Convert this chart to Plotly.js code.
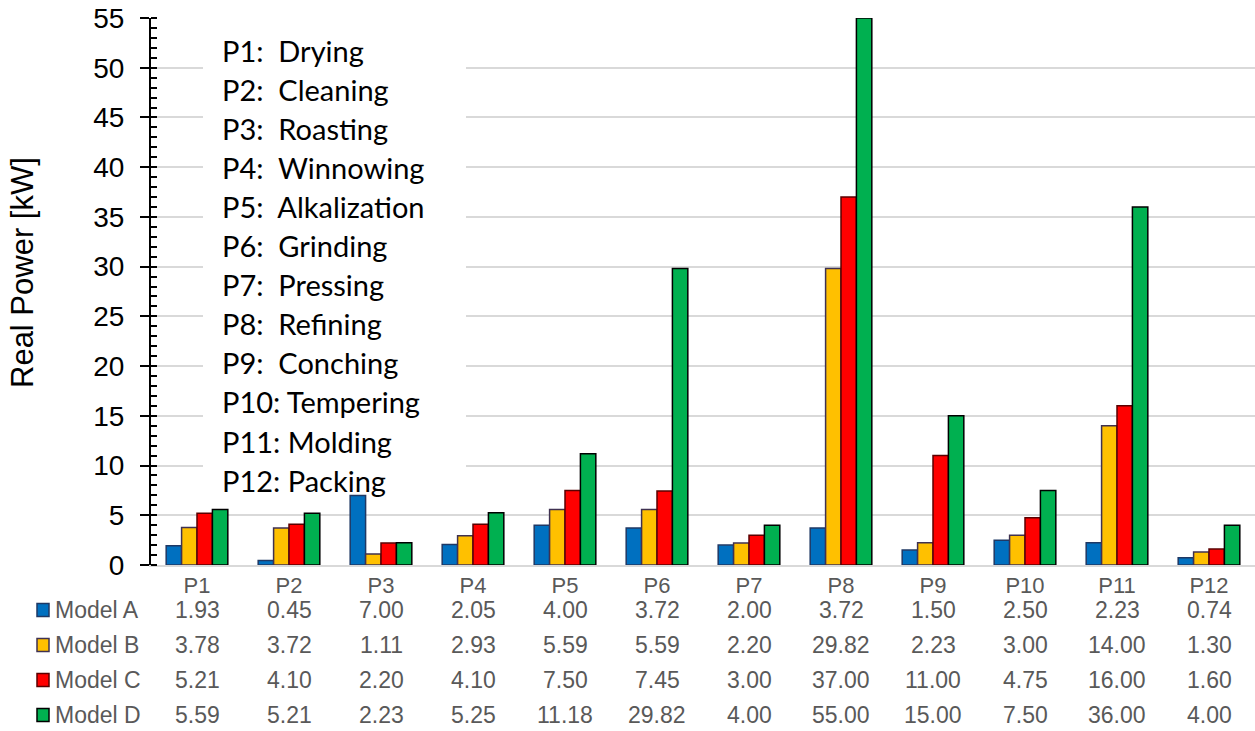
<!DOCTYPE html>
<html>
<head>
<meta charset="utf-8">
<script src="https://cdn.plot.ly/plotly-3.0.1.min.js"></script>
<style>html,body{margin:0;padding:0;background:#fff;}#chart{width:1255px;height:731px;}</style>
</head>
<body>
<div id="chart"></div>
<script>
const categories = ['P1','P2','P3','P4','P5','P6','P7','P8','P9','P10','P11','P12'];
const processNames = ['Drying','Cleaning','Roasting','Winnowing','Alkalization','Grinding','Pressing','Refining','Conching','Tempering','Molding','Packing'];
const seriesNames = ['Model A','Model B','Model C','Model D'];
const modelA = [1.93,0.45,7.00,2.05,4.00,3.72,2.00,3.72,1.50,2.50,2.23,0.74];
const modelB = [3.78,3.72,1.11,2.93,5.59,5.59,2.20,29.82,2.23,3.00,14.00,1.30];
const modelC = [5.21,4.10,2.20,4.10,7.50,7.45,3.00,37.00,11.00,4.75,16.00,1.60];
const modelD = [5.59,5.21,2.23,5.25,11.18,29.82,4.00,55.00,15.00,7.50,36.00,4.00];
const seriesValues = [modelA, modelB, modelC, modelD];
const fillColors = ['#0070C0','#FFC000','#FF0000','#00B050'];
const lineColors = ['#1F3864','#3F3151','#5A0000','#000000'];

const L = 151, T = 18, W = 1104, H = 547;
const FW = 1255, FH = 731;
const px2x = p => (p - L) / W;
const py2y = p => (T + H - p) / H;
const font = 'Liberation Sans, Arial, sans-serif';
const grey = '#595959';

const traces = seriesValues.map((vals, i) => ({
  type: 'bar', x: categories, y: vals, name: seriesNames[i],
  marker: {color: fillColors[i], line: {color: lineColors[i], width: 1.5}},
  hoverinfo: 'x+y+name'
}));

const annotations = [];
const shapes = [];

// white text box behind the process list (hides gridlines)
annotations.push({xref:'paper', yref:'paper', x: px2x(203), y: py2y(26),
  xanchor:'left', yanchor:'top', showarrow:false, text:' ',
  width: 263, height: 468, bgcolor:'#ffffff', borderpad:0, borderwidth:0});

processNames.forEach((name, i) => {
  const sep = i < 9 ? ':\u00a0\u00a0' : ':\u00a0';
  annotations.push({xref:'paper', yref:'paper', x: px2x(220), y: py2y(50 + 39.1 * i),
    xanchor:'left', yanchor:'middle', showarrow:false,
    text: categories[i] + sep + name,
    font:{family:'Lato, Open Sans, sans-serif', size:29, color:'#000000'}});
});

// y axis title
annotations.push({xref:'paper', yref:'paper', x: px2x(22), y: py2y(273),
  xanchor:'center', yanchor:'middle', showarrow:false, textangle:-90,
  text:'Real Power [kW]', font:{family:font, size:31, color:'#000000'}});

// data table rows
const rowY = [610, 645, 680, 715];
seriesNames.forEach((nm, r) => {
  shapes.push({type:'rect', xref:'paper', yref:'paper', layer:'above',
    x0: px2x(37), x1: px2x(49), y0: py2y(rowY[r] + 6.5), y1: py2y(rowY[r] - 6.5),
    fillcolor: fillColors[r], line:{color: lineColors[r], width:1.5}});
  annotations.push({xref:'paper', yref:'paper', x: px2x(53), y: py2y(rowY[r]),
    xanchor:'left', yanchor:'middle', showarrow:false, text: nm,
    font:{family:font, size:23, color:grey}});
  categories.forEach((c, j) => {
    annotations.push({xref:'x', yref:'paper', x: c, y: py2y(rowY[r]),
      xanchor:'center', yanchor:'middle', showarrow:false,
      text: seriesValues[r][j].toFixed(2),
      font:{family:font, size:23, color:grey}});
  });
});

const layout = {
  width: FW, height: FH,
  margin: {l: L, r: FW - L - W, t: T, b: FH - T - H},
  paper_bgcolor:'#ffffff', plot_bgcolor:'#ffffff',
  showlegend: false,
  barmode:'group', bargap: 0.33, bargroupgap: 0,
  font:{family:font},
  xaxis: {
    type:'category', showgrid:false, zeroline:false,
    showline:true, linecolor:'#d9d9d9', linewidth:2,
    ticks:'', tickfont:{family:font, size:22, color:grey},
    ticklabelstandoff: 0
  },
  yaxis: {
    range:[0,55], dtick:5, tick0:0,
    showgrid:true, gridcolor:'#d9d9d9', gridwidth:1.5,
    zeroline:false, showline:true, linecolor:'#000000', linewidth:2,
    ticks:'outside', ticklen:9, tickwidth:2, tickcolor:'#000000',
    tickfont:{family:font, size:28, color:'#000000'},
    ticklabelstandoff: 10,
    minor:{dtick:1, ticks:'inside', ticklen:6, tickwidth:1.5, tickcolor:'#000000', showgrid:false},
    automargin:false
  },
  yaxis2: {
    overlaying:'y', range:[0,55], dtick:5, tick0:0, side:'left',
    showgrid:false, zeroline:false, showline:false, showticklabels:false,
    ticks:'inside', ticklen:6, tickwidth:2, tickcolor:'#000000'
  },
  shapes, annotations
};

const dummy = {type:'scatter', x:[], y:[], yaxis:'y2', xaxis:'x', showlegend:false, hoverinfo:'skip'};

Plotly.newPlot('chart', traces.concat([dummy]), layout, {displayModeBar:false});
</script>
</body>
</html>
